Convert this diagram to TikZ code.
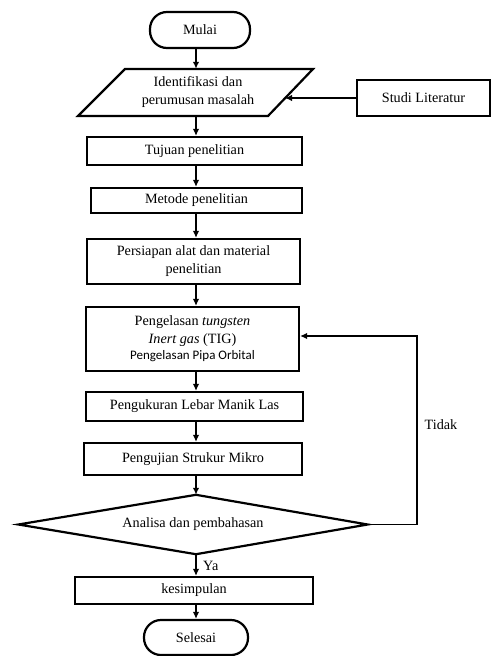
\documentclass[tikz,border=0pt]{standalone}
\usepackage{fontspec}
\setmainfont{Liberation Serif}
\newfontfamily\calib{Carlito}
\usetikzlibrary{shapes.geometric,arrows.meta}
\begin{document}
\begin{tikzpicture}[x=1pt,y=-1pt,
  font=\fontsize{14.2}{18}\selectfont,
  base/.style={draw=black,line width=2.2pt,inner sep=0pt,align=center},
  procbox/.style={base,rectangle},
  termbox/.style={base,rectangle,rounded corners=17pt},
  arr/.style={line width=1.8pt,-{Latex[length=7pt,width=6.5pt]}},
  lbl/.style={inner sep=0pt}]
\useasboundingbox (0,0) rectangle (492,656);
\coordinate (spine) at (196,0);
% nodes
\node[termbox,minimum width=100,minimum height=36] (mulai) at (200,30) {Mulai};
\node[inner sep=0pt,align=center,minimum width=190,minimum height=47] (ident) at (198,92.5) {Identifikasi dan\\perumusan masalah};
\draw[line width=2.2pt,line join=miter] (125,69) -- (313,69) -- (268,116) -- (78,116) -- cycle;
\coordinate (identR) at (285,98);
\node[procbox,minimum width=133,minimum height=36] (studi) at (423.5,98) {Studi Literatur};
\node[procbox,minimum width=215,minimum height=28] (tujuan) at (194.5,151) {Tujuan penelitian};
\node[procbox,minimum width=211,minimum height=25] (metode) at (196.5,200.5) {Metode penelitian};
\node[procbox,minimum width=213,minimum height=45] (persiapan) at (193.5,261.5) {Persiapan alat dan material\\penelitian};
\node[procbox,minimum width=213,minimum height=64] (las) at (192.5,339) {Pengelasan \textit{tungsten}\\\textit{Inert gas} (TIG)\\[-2pt]{\calib\fontsize{13}{15}\selectfont Pengelasan Pipa Orbital}};
\node[procbox,minimum width=217,minimum height=29] (ukur) at (194.5,406.5) {Pengukuran Lebar Manik Las};
\node[procbox,minimum width=218,minimum height=32] (uji) at (193,459) {Pengujian Strukur Mikro};
\node[inner sep=0pt,minimum width=349,minimum height=59] (analisa) at (193,524.5) {Analisa dan pembahasan};
\draw[line width=2.2pt,line join=miter] (analisa.west) -- (analisa.north -| spine) -- (analisa.east) -- (analisa.south -| spine) -- cycle;
\node[procbox,minimum width=238,minimum height=27] (simpul) at (194,590.5) {kesimpulan};
\node[termbox,minimum width=104,minimum height=35] (selesai) at (196,637.5) {Selesai};
% connectors
\draw[arr] (mulai.south -| spine) -- (ident.north -| spine);
\draw[arr] (studi.west) -- (identR);
\draw[arr] (ident.south -| spine) -- (tujuan.north -| spine);
\draw[arr] (tujuan.south -| spine) -- (metode.north -| spine);
\draw[arr] (metode.south -| spine) -- (persiapan.north -| spine);
\draw[arr] (persiapan.south -| spine) -- (las.north -| spine);
\draw[arr] (las.south -| spine) -- (ukur.north -| spine);
\draw[arr] (ukur.south -| spine) -- (uji.north -| spine);
\draw[arr] (uji.south -| spine) -- (analisa.north -| spine);
\draw[arr] (analisa.south -| spine) -- (simpul.north -| spine);
\draw[arr] (simpul.south -| spine) -- (selesai.north -| spine);
\coordinate (fb) at (417,336);
\draw[arr] (analisa.east) -| (fb) -- (fb -| las.east);
\node[lbl,anchor=west] (ya) at (203,566) {Ya};
\node[lbl] (tidak) at (441,425) {Tidak};
\end{tikzpicture}
\end{document}
